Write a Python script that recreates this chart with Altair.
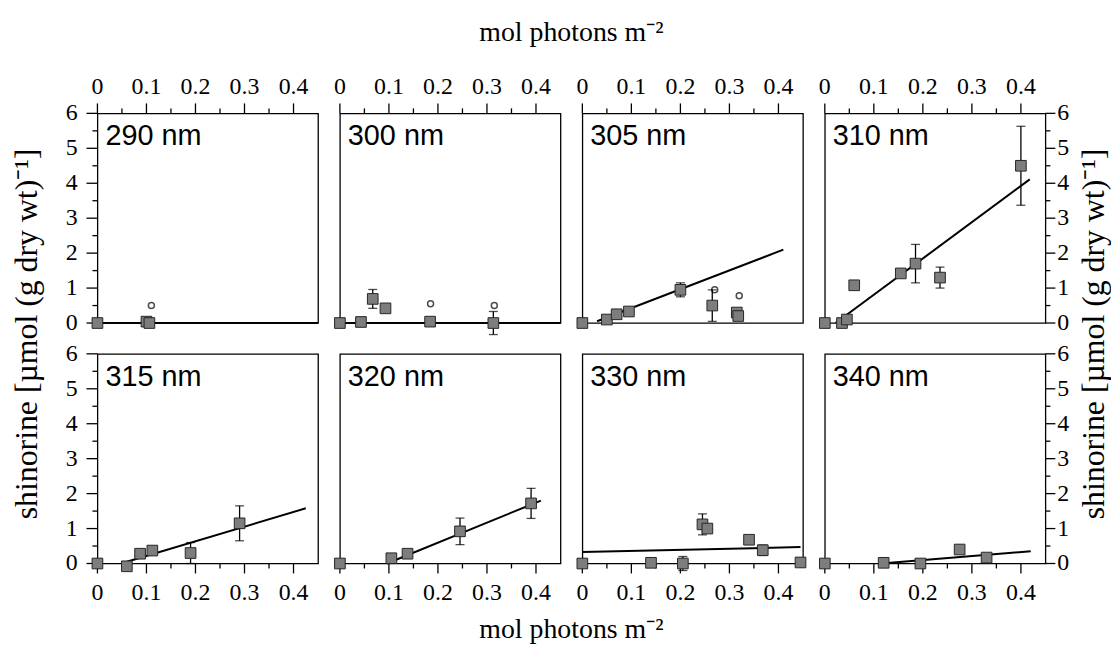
import altair as alt
import pandas as pd

PANELS = ["290 nm", "300 nm", "305 nm", "310 nm", "315 nm", "320 nm", "330 nm", "340 nm"]
X_TITLE = "mol photons m\u207b\u00b2"
Y_TITLE = "shinorine [\u00b5mol (g dry wt)\u207b\u00b9]"

X_TICKS = [0.0, 0.1, 0.2, 0.3, 0.4]
X_LABELS = ["0", "0.1", "0.2", "0.3", "0.4"]
X_MINOR = [0.05, 0.15, 0.25, 0.35]
Y_TICKS = [0, 1, 2, 3, 4, 5, 6]
Y_LABELS = ["0", "1", "2", "3", "4", "5", "6"]
Y_MINOR = [0.5, 1.5, 2.5, 3.5, 4.5, 5.5]

# filled squares: x, y, error half-width
sq_x_290 = [0.0, 0.100, 0.106]
sq_y_290 = [0.0, 0.04, 0.0]
sq_e_290 = [0, 0, 0]

sq_x_300 = [0.0, 0.043, 0.067, 0.093, 0.184, 0.313]
sq_y_300 = [0.0, 0.03, 0.69, 0.42, 0.04, 0.0]
sq_e_300 = [0, 0, 0.27, 0, 0, 0.33]

sq_x_305 = [0.0, 0.05, 0.07, 0.095, 0.20, 0.265, 0.315, 0.318]
sq_y_305 = [0.0, 0.1, 0.25, 0.33, 0.95, 0.5, 0.3, 0.2]
sq_e_305 = [0, 0, 0, 0, 0.2, 0.45, 0, 0]

sq_x_310 = [0.0, 0.035, 0.045, 0.06, 0.155, 0.185, 0.235, 0.40]
sq_y_310 = [0.0, 0.0, 0.1, 1.08, 1.42, 1.7, 1.3, 4.5]
sq_e_310 = [0, 0, 0, 0, 0, 0.55, 0.3, 1.13]

sq_x_315 = [0.0, 0.06, 0.087, 0.112, 0.19, 0.29]
sq_y_315 = [0.0, -0.08, 0.28, 0.37, 0.3, 1.15]
sq_e_315 = [0, 0, 0, 0, 0.3, 0.5]

sq_x_320 = [0.0, 0.105, 0.138, 0.245, 0.39]
sq_y_320 = [0.0, 0.15, 0.28, 0.92, 1.72]
sq_e_320 = [0, 0, 0, 0.38, 0.43]

sq_x_330 = [0.0, 0.14, 0.205, 0.245, 0.255, 0.34, 0.368, 0.445]
sq_y_330 = [0.0, 0.02, 0.0, 1.12, 1.0, 0.68, 0.38, 0.03]
sq_e_330 = [0, 0, 0.2, 0.3, 0, 0, 0.15, 0]

sq_x_340 = [0.0, 0.12, 0.195, 0.275, 0.33]
sq_y_340 = [0.0, 0.02, 0.0, 0.4, 0.17]
sq_e_340 = [0, 0, 0, 0, 0]

# open circles
ci_x_290 = [0.11]
ci_y_290 = [0.5]
ci_x_300 = [0.185, 0.315]
ci_y_300 = [0.55, 0.5]
ci_x_305 = [0.27, 0.32]
ci_y_305 = [0.95, 0.78]

# regression lines (end points)
ln_x_290 = [0.0, 0.45]
ln_y_290 = [0.0, 0.0]
ln_x_300 = [0.0, 0.45]
ln_y_300 = [0.0, 0.0]
ln_x_305 = [0.03, 0.41]
ln_y_305 = [0.05, 2.1]
ln_x_310 = [0.022, 0.418]
ln_y_310 = [0.0, 4.11]
ln_x_315 = [0.06, 0.425]
ln_y_315 = [0.05, 1.58]
ln_x_320 = [0.096, 0.41]
ln_y_320 = [0.0, 1.8]
ln_x_330 = [0.0, 0.445]
ln_y_330 = [0.33, 0.47]
ln_x_340 = [0.115, 0.42]
ln_y_340 = [0.0, 0.35]

SQ = [(sq_x_290, sq_y_290, sq_e_290), (sq_x_300, sq_y_300, sq_e_300),
      (sq_x_305, sq_y_305, sq_e_305), (sq_x_310, sq_y_310, sq_e_310),
      (sq_x_315, sq_y_315, sq_e_315), (sq_x_320, sq_y_320, sq_e_320),
      (sq_x_330, sq_y_330, sq_e_330), (sq_x_340, sq_y_340, sq_e_340)]
CI = [(ci_x_290, ci_y_290), (ci_x_300, ci_y_300), (ci_x_305, ci_y_305),
      ([], []), ([], []), ([], []), ([], []), ([], [])]
LN = [(ln_x_290, ln_y_290), (ln_x_300, ln_y_300), (ln_x_305, ln_y_305),
      (ln_x_310, ln_y_310), (ln_x_315, ln_y_315), (ln_x_320, ln_y_320),
      (ln_x_330, ln_y_330), (ln_x_340, ln_y_340)]

W, H = 222, 211
HSP, VSP = 22, 31
SERIF = "Liberation Serif"
SANS = "Liberation Sans"
MAJOR, MINOR = 10, 5
TICK_FS = 24

x_scale = alt.Scale(domain=[0, 0.45], nice=False, zero=False)
y_scale = alt.Scale(domain=[0, 6], nice=False, zero=False)


def X(f="x"):
    return alt.X(f + ":Q", scale=x_scale, axis=None)


def Y(f="y"):
    return alt.Y(f + ":Q", scale=y_scale, axis=None)


def rule():
    return alt.Chart().mark_rule(color="black", strokeWidth=1.3)


def label(align, baseline):
    return alt.Chart().mark_text(font=SERIF, fontSize=TICK_FS, align=align,
                                 baseline=baseline, color="black")


def panel(i):
    row, col = divmod(i, 4)
    xs, ys, es = SQ[i]
    sq = pd.DataFrame({"x": xs, "y": ys, "lo": [a - b for a, b in zip(ys, es)],
                       "hi": [a + b for a, b in zip(ys, es)], "e": es})
    eb = sq[sq["e"] > 0]
    xt = pd.DataFrame({"x": X_TICKS, "t": X_LABELS})
    xm = pd.DataFrame({"x": X_MINOR})
    yt = pd.DataFrame({"y": Y_TICKS, "t": Y_LABELS})
    ym = pd.DataFrame({"y": Y_MINOR})

    layers = []
    # x ticks + labels (top row: above, bottom row: below)
    if row == 0:
        layers.append(rule().properties(data=xt).encode(x=X(), y=alt.value(0), y2=alt.value(-MAJOR)))
        layers.append(rule().properties(data=xm).encode(x=X(), y=alt.value(0), y2=alt.value(-MINOR)))
        layers.append(label("center", "alphabetic").properties(data=xt).encode(
            x=X(), y=alt.value(-19), text="t:N"))
    else:
        layers.append(rule().properties(data=xt).encode(x=X(), y=alt.value(H), y2=alt.value(H + MAJOR)))
        layers.append(rule().properties(data=xm).encode(x=X(), y=alt.value(H), y2=alt.value(H + MINOR)))
        layers.append(label("center", "alphabetic").properties(data=xt).encode(
            x=X(), y=alt.value(H + 37), text="t:N"))
    # y ticks + labels on outer panels
    if col == 0:
        layers.append(rule().properties(data=yt).encode(y=Y(), x=alt.value(0), x2=alt.value(-MAJOR - 1)))
        layers.append(rule().properties(data=ym).encode(y=Y(), x=alt.value(0), x2=alt.value(-MINOR)))
        layers.append(label("right", "middle").properties(data=yt).encode(
            y=Y(), x=alt.value(-20), text="t:N"))
    if col == 3:
        layers.append(rule().properties(data=yt).encode(y=Y(), x=alt.value(W), x2=alt.value(W + MAJOR)))
        layers.append(rule().properties(data=ym).encode(y=Y(), x=alt.value(W), x2=alt.value(W + MINOR)))
        layers.append(label("left", "middle").properties(data=yt).encode(
            y=Y(), x=alt.value(W + 12), text="t:N"))

    lx, ly = LN[i]
    layers.append(alt.Chart(pd.DataFrame({"x": lx, "y": ly})).mark_line(
        color="black", strokeWidth=2).encode(x=X(), y=Y()))
    if len(eb):
        layers.append(rule().properties(data=eb).encode(x=X(), y=Y("lo"), y2="hi:Q"))
        for f in ["lo", "hi"]:
            layers.append(alt.Chart(eb).mark_tick(
                color="black", orient="horizontal", size=9, thickness=1.3).encode(
                x=X(), y=Y(f)))
    layers.append(alt.Chart(sq).mark_square(
        size=115, fill="#7d7d7d", stroke="#262626", strokeWidth=1, opacity=1).encode(
        x=X(), y=Y()))
    cx, cy = CI[i]
    if cx:
        layers.append(alt.Chart(pd.DataFrame({"x": cx, "y": cy})).mark_point(
            shape="circle", size=36, filled=False, color="black", strokeWidth=1.5).encode(
            x=X(), y=Y()))
    layers.append(alt.Chart(pd.DataFrame({"t": [PANELS[i]]})).mark_text(
        font=SANS, fontSize=29, align="left", baseline="alphabetic", color="black").encode(
        x=alt.value(8), y=alt.value(32), text="t:N"))
    # shared titles drawn as text
    if i == 0:
        layers.append(alt.Chart(pd.DataFrame({"t": [Y_TITLE]})).mark_text(
            font=SERIF, fontSize=32, angle=270, align="center", baseline="middle",
            color="black").encode(x=alt.value(-71), y=alt.value(222), text="t:N"))
    if i == 3:
        layers.append(alt.Chart(pd.DataFrame({"t": [Y_TITLE]})).mark_text(
            font=SERIF, fontSize=32, angle=270, align="center", baseline="middle",
            color="black").encode(x=alt.value(W + 49), y=alt.value(222), text="t:N"))
    if i == 2:
        layers.append(alt.Chart(pd.DataFrame({"t": [X_TITLE]})).mark_text(
            font=SERIF, fontSize=28, align="center", baseline="middle",
            color="black").encode(x=alt.value(-HSP / 2), y=alt.value(-81), text="t:N"))
    if i == 6:
        layers.append(alt.Chart(pd.DataFrame({"t": [X_TITLE]})).mark_text(
            font=SERIF, fontSize=28, align="center", baseline="middle",
            color="black").encode(x=alt.value(-HSP / 2), y=alt.value(H + 67), text="t:N"))
    return alt.layer(*layers).properties(width=W, height=H)


chart = alt.concat(*[panel(i) for i in range(8)], columns=4,
                   spacing={"row": VSP, "column": HSP}, bounds="flush").properties(
    padding={"left": 2, "top": 8, "right": 0, "bottom": 0}, background="white"
).configure_view(stroke="black", strokeWidth=1.3)

chart.save("out.html", embed_options={"renderer": "svg", "actions": False})
